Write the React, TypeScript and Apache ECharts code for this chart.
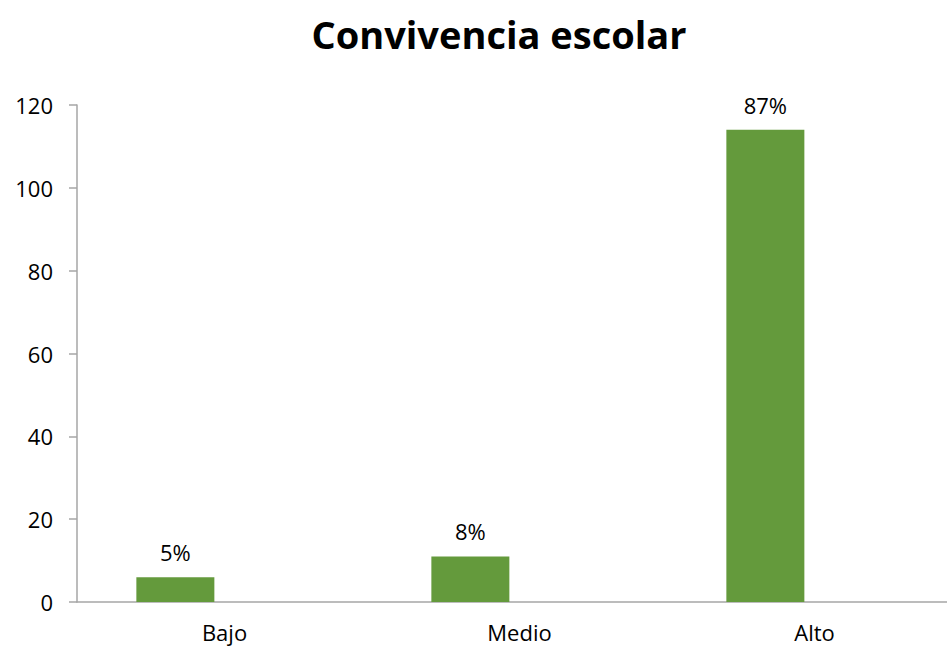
import React, { useEffect, useRef } from "react";
import * as echarts from "echarts";

const categories = ["Bajo", "Medio", "Alto"];
const counts = [6, 11, 114];
const percentLabels = ["5%", "8%", "87%"];
const yTicks = { min: 0, max: 120, interval: 20 };

export default function App() {
  const ref = useRef<HTMLDivElement>(null);
  useEffect(() => {
    if (!ref.current) return;
    const chart = echarts.init(ref.current, undefined, { renderer: "svg" });
    const font = "'Open Sans', 'Noto Sans', sans-serif";
    chart.setOption({
      animation: false,
      backgroundColor: "#ffffff",
      title: {
        text: "Convivencia escolar",
        left: 494,
        top: 10,
        textAlign: "center",
        textStyle: { fontFamily: font, fontSize: 38, fontWeight: "bold", color: "#000000" },
      },
      grid: { left: 77, top: 105, width: 885, bottom: 46, containLabel: false },
      xAxis: {
        type: "category",
        data: categories,
        axisLine: { show: true, lineStyle: { color: "#a6a6a6", width: 1.5 } },
        axisTick: { show: false },
        axisLabel: { fontFamily: font, fontSize: 22, color: "#000000", margin: 19 },
      },
      yAxis: {
        type: "value",
        min: yTicks.min,
        max: yTicks.max,
        interval: yTicks.interval,
        axisLine: { show: true, lineStyle: { color: "#a6a6a6", width: 1.5 } },
        axisTick: { show: true, inside: false, length: 8, lineStyle: { color: "#a6a6a6", width: 1.5 } },
        splitLine: { show: false },
        axisLabel: { fontFamily: font, fontSize: 22, color: "#000000", margin: 24 },
      },
      series: [
        {
          type: "bar",
          data: counts,
          barWidth: 78,
          barGap: "26%",
          itemStyle: { color: "#649a3c" },
          label: {
            show: true,
            position: "top",
            distance: 14,
            fontFamily: font,
            fontSize: 22,
            color: "#000000",
            formatter: (p: any) => percentLabels[p.dataIndex],
          },
        },
        {
          type: "bar",
          data: [],
          barWidth: 78,
        },
      ],
    });
    return () => chart.dispose();
  }, []);
  return (
    <div
      style={{ position: "fixed", left: 0, top: 0, width: 947, height: 648, overflow: "hidden", background: "#ffffff" }}
    >
      <div ref={ref} style={{ width: 980, height: 648 }} />
    </div>
  );
}
